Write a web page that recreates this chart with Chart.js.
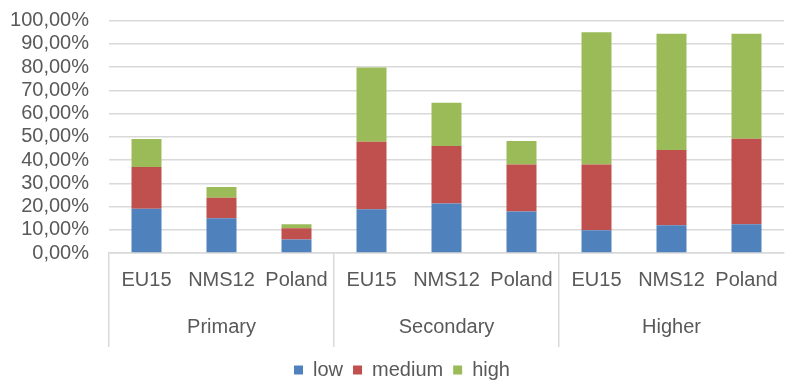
<!DOCTYPE html>
<html>
<head>
<meta charset="utf-8">
<script src="https://cdn.jsdelivr.net/npm/chart.js@4/dist/chart.umd.min.js"></script>
<style>
  html, body { margin: 0; padding: 0; background: #ffffff; }
  #wrap { width: 785px; height: 380px; }
</style>
</head>
<body>
<div id="wrap"><canvas id="chart" width="785" height="380"></canvas></div>
<script>
// Education level groups and the regions shown inside each group
const groups = ['Primary', 'Secondary', 'Higher'];
const regions = ['EU15', 'NMS12', 'Poland'];
const categories = ['EU15', 'NMS12', 'Poland', 'EU15', 'NMS12', 'Poland', 'EU15', 'NMS12', 'Poland'];

// Shares (%) per category, stacked low -> medium -> high
const low    = [19.0, 15.0, 5.8, 18.8, 21.3, 17.9, 9.8, 11.9, 12.4];
const medium = [18.0, 8.8, 4.8, 29.1, 24.7, 20.2, 28.3, 32.4, 36.7];
const high   = [12.0, 4.6, 1.8, 31.9, 18.6, 10.1, 56.9, 50.0, 45.2];

const seriesNames = ['low', 'medium', 'high'];
const yTicks = [0, 10, 20, 30, 40, 50, 60, 70, 80, 90, 100];

const textColor = '#595959';
const gridColor = '#d9d9d9';
const fontFamily = '"Liberation Sans", Arial, sans-serif';

Chart.defaults.font.family = fontFamily;
Chart.defaults.color = textColor;

const seriesColors = ['#4F81BD', '#C0504D', '#9BBB59'];
const seriesValues = [low, medium, high];

// Nudge the bottom legend a little to the right, under the plot
const legendShift = {
  id: 'legendShift',
  afterLayout(chart) {
    if (chart.legend) {
      chart.legend.left += 20;
    }
  }
};

new Chart(document.getElementById('chart'), {
  type: 'bar',
  data: {
    labels: categories,
    datasets: seriesNames.map((name, i) => ({
      label: name,
      data: seriesValues[i],
      backgroundColor: seriesColors[i],
      borderWidth: 0,
      categoryPercentage: 1,
      barPercentage: 0.4,
      xAxisID: 'x',
      yAxisID: 'y'
    }))
  },
  plugins: [legendShift],
  options: {
    responsive: false,
    animation: false,
    layout: { padding: { top: 0, left: 0, right: 1, bottom: -10 } },
    plugins: {
      legend: {
        position: 'bottom',
        labels: {
          boxWidth: 9,
          boxHeight: 9,
          padding: 10,
          color: textColor,
          font: { size: 20, family: fontFamily }
        }
      },
      tooltip: { enabled: false }
    },
    scales: {
      y: {
        stacked: true,
        min: 0,
        max: 100,
        afterBuildTicks: axis => { axis.ticks = yTicks.map(v => ({ value: v })); },
        ticks: {
          padding: 20,
          autoSkip: false,
          color: textColor,
          font: { size: 20, family: fontFamily },
          callback: v => v.toFixed(2).replace('.', ',') + '%'
        },
        grid: { color: gridColor, lineWidth: 1.5, drawTicks: false },
        border: { display: false },
        afterFit: axis => {
          axis.width = 109;
          axis.paddingTop = 20.5;
        }
      },
      x: {
        stacked: true,
        offset: true,
        ticks: {
          padding: -79,
          maxRotation: 0,
          minRotation: 0,
          autoSkip: false,
          color: textColor,
          font: { size: 20, family: fontFamily }
        },
        grid: {
          offset: true,
          drawOnChartArea: false,
          tickLength: 94,
          lineWidth: 1.5,
          color: ctx => (ctx.index !== undefined && ctx.index % regions.length === 0) ? gridColor : 'rgba(0,0,0,0)'
        },
        border: { display: true, color: gridColor, width: 1.5 },
        afterFit: axis => { axis.height = 47; }
      },
      x2: {
        type: 'category',
        position: 'bottom',
        labels: groups,
        offset: true,
        ticks: {
          padding: 15,
          maxRotation: 0,
          minRotation: 0,
          autoSkip: false,
          color: textColor,
          font: { size: 20, family: fontFamily }
        },
        grid: { display: false, drawTicks: false },
        border: { display: false },
        afterFit: axis => { axis.height = 50; }
      }
    }
  }
});
</script>
</body>
</html>
